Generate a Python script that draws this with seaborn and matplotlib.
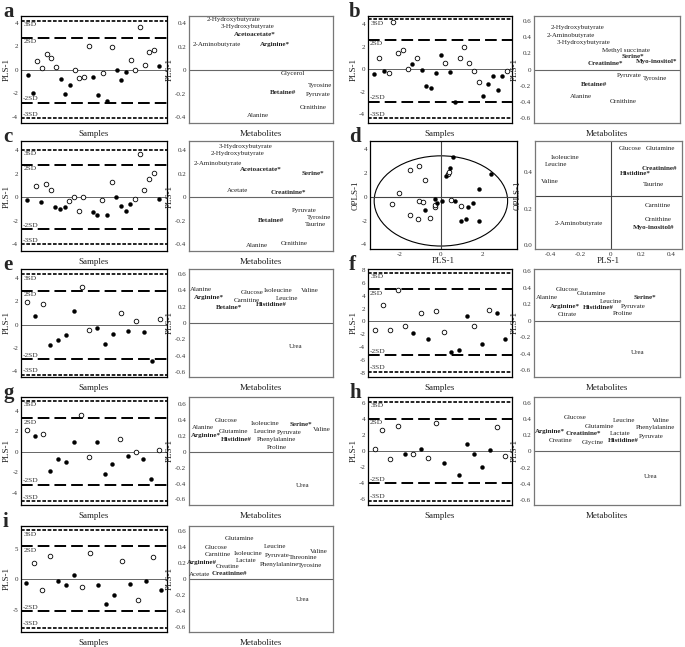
import numpy as np
import pandas as pd
import matplotlib
matplotlib.use("Agg")
import matplotlib.pyplot as plt
from matplotlib.patches import Ellipse
from matplotlib.ticker import FuncFormatter
import seaborn as sns

sns.set_theme(style="white")
plt.rcParams["font.family"] = ["Liberation Serif", "DejaVu Serif"]
plt.rcParams["axes.unicode_minus"] = False

# ---------------- score plots (PLS-1 per sample), 1 = filled dot, 0 = open circle
a_idx = list(range(1, 30))
a_val = [-0.5, -2.0, 0.7, 0.15, 1.3, 0.95, 0.2, -0.8, -2.1, -1.35, 0.0, -0.75, -0.65, 2.0, -0.65,
         -2.2, -0.25, -2.65, 1.95, 0.0, -0.9, -0.2, 0.8, -0.05, 3.6, 0.4, 1.5, 1.65, 0.3]
a_fill = [1, 1, 0, 0, 0, 0, 0, 1, 1, 1, 0, 0, 0, 0, 1, 1, 0, 1, 0, 1, 1, 1, 0, 0, 0, 0, 0, 0, 1]
a_sd = [4.17, 2.72, -2.81, -4.14]

b_idx = list(range(1, 30))
b_val = [-0.44, 1.0, -0.18, -0.32, 4.24, 1.46, 1.72, 0.06, 0.5, 1.0, -0.09, -1.52, -1.67, -0.29, 1.26,
         0.58, -0.2, -2.87, 1.0, 1.99, 0.58, -0.15, -1.17, -2.4, -1.29, -0.56, -1.87, -0.56, -0.18]
b_fill = [1, 0, 1, 0, 0, 0, 0, 0, 1, 0, 1, 1, 1, 1, 1, 0, 1, 1, 0, 0, 0, 0, 0, 1, 1, 1, 1, 1, 0]
b_sd = [4.44, 2.63, -2.87, -4.33]

c_idx = [1, 3, 4, 5, 6, 7, 8, 9, 10, 11, 12, 13, 15, 16, 17, 18, 19, 20, 21, 22, 23, 24, 25, 26, 27, 28, 29]
c_val = [-0.22, 0.95, -0.45, 1.1, 0.62, -0.87, -0.98, -0.84, -0.31, 0.0, -1.18, 0.0, -1.24, -1.52,
         -0.28, -1.49, 1.32, 0.0, -0.76, -1.21, -0.56, -0.17, 3.65, 0.62, 1.54, 2.08, -0.17]
c_fill = [1, 0, 1, 0, 0, 1, 1, 1, 0, 0, 0, 0, 1, 1, 0, 1, 0, 1, 1, 1, 1, 0, 0, 0, 0, 0, 1]
c_sd = [4.04, 2.75, -2.7, -4.02]

e_idx = list(range(1, 19))
e_val = [1.89, 0.69, 1.72, -1.75, -1.33, -0.86, 1.19, 3.2, -0.47, -0.28, -1.65, -0.81, 0.99,
         -0.58, 0.26, -0.67, -3.1, 0.44]
e_fill = [0, 1, 0, 1, 1, 1, 1, 0, 0, 1, 1, 1, 0, 1, 0, 1, 1, 0]
e_sd = [4.3, 2.86, -2.99, -4.29]

f_idx = list(range(1, 19))
f_val = [-1.35, 2.5, -1.4, 4.9, -0.65, -1.8, 1.3, -2.8, 1.55, -1.7, -4.85, -4.4, 0.83, -0.66,
         -3.6, 1.77, 1.38, -2.7]
f_fill = [0, 0, 0, 0, 0, 1, 0, 1, 0, 0, 1, 1, 1, 0, 1, 0, 1, 1]
f_sd = [7.6, 5.0, -5.3, -7.9]

g_idx = list(range(1, 19))
g_val = [2.1, 1.53, 1.72, -1.85, -0.75, -1.04, 0.97, 3.57, -0.49, 0.97, -2.18, -1.23, 1.27,
         -0.45, 0.0, -0.71, -2.7, 0.16]
g_fill = [0, 1, 0, 1, 1, 1, 1, 0, 0, 1, 1, 1, 0, 1, 0, 1, 1, 0]
g_sd = [4.95, 3.25, -3.2, -4.8]

h_idx = [1, 2, 3, 4, 5, 6, 7, 8, 9, 10, 12, 13, 14, 15, 16, 17, 18]
h_val = [0.25, 2.7, -1.0, 3.17, -0.29, -0.29, 0.29, -0.83, 3.58, -1.46, -3.0, 0.88, -0.38,
         -2.0, 0.17, 3.04, -0.63]
h_fill = [0, 0, 0, 0, 1, 0, 1, 0, 0, 1, 1, 1, 1, 1, 1, 0, 0]
h_sd = [6.17, 4.1, -4.04, -6.2]

i_idx = list(range(1, 19))
i_val = [-0.6, 2.7, -1.7, 3.8, -0.33, -1.0, 0.77, -1.33, 4.36, -1.0, -4.1, -2.54, 3.04, -0.72,
         -3.37, -0.22, 3.7, -1.82]
i_fill = [1, 0, 0, 0, 1, 1, 1, 0, 0, 1, 1, 1, 0, 1, 0, 1, 0, 1]
i_sd = [8.1, 5.45, -5.3, -8.0]

# ---------------- loading plots (metabolite, x position, PLS-1 loading, bold = significant)
a_met = ["2-Hydroxybutyrate", "3-Hydroxybutyrate", "Acetoacetate*", "2-Aminobutyrate", "Arginine*",
         "Glycerol", "Tyrosine", "Betaine#", "Pyruvate", "Ornithine", "Alanine"]
a_lx = [0.31, 0.41, 0.46, 0.19, 0.60, 0.72, 0.91, 0.65, 0.90, 0.86, 0.48]
a_ly = [0.43, 0.37, 0.30, 0.22, 0.22, -0.03, -0.13, -0.19, -0.21, -0.32, -0.39]
a_bold = [0, 0, 1, 0, 1, 0, 0, 1, 0, 0, 0]

b_met = ["2-Hydroxybutyrate", "2-Aminobutyrate", "3-Hydroxybutyrate", "Methyl succinate", "Serine*",
         "Myo-inositol*", "Creatinine*", "Pyruvate", "Tyrosine", "Betaine#", "Alanine", "Ornithine"]
b_lx = [0.30, 0.25, 0.34, 0.63, 0.68, 0.84, 0.49, 0.65, 0.83, 0.41, 0.32, 0.61]
b_ly = [0.52, 0.42, 0.33, 0.24, 0.16, 0.10, 0.07, -0.08, -0.11, -0.19, -0.33, -0.40]
b_bold = [0, 0, 0, 0, 1, 1, 1, 0, 0, 1, 0, 0]

c_met = ["3-Hydroxybutyrate", "2-Hydroxybutyrate", "2-Aminobutyrate", "Acetoacetate*", "Serine*",
         "Acetate", "Creatinine*", "Pyruvate", "Tyrosine", "Betaine#", "Taurine", "Alanine", "Ornithine"]
c_lx = [0.39, 0.34, 0.20, 0.50, 0.86, 0.34, 0.69, 0.80, 0.90, 0.57, 0.88, 0.47, 0.73]
c_ly = [0.43, 0.37, 0.29, 0.24, 0.20, 0.06, 0.04, -0.11, -0.17, -0.20, -0.23, -0.41, -0.40]
c_bold = [0, 0, 0, 1, 1, 0, 1, 0, 0, 1, 0, 0, 0]

e_met = ["Alanine", "Arginine*", "Glucose", "Carnitine", "Betaine*", "Isoleucine", "Valine",
         "Leucine", "Histidine#", "Urea"]
e_lx = [0.08, 0.14, 0.44, 0.40, 0.28, 0.62, 0.84, 0.68, 0.57, 0.74]
e_ly = [0.41, 0.31, 0.37, 0.28, 0.19, 0.40, 0.40, 0.30, 0.22, -0.29]
e_bold = [0, 1, 0, 0, 1, 0, 0, 0, 1, 0]

f_met = ["Glucose", "Glutamine", "Alanine", "Leucine", "Serine*", "Arginine*", "Pyruvate",
         "Histidine#", "Citrate", "Proline", "Urea"]
f_lx = [0.23, 0.39, 0.09, 0.53, 0.76, 0.21, 0.68, 0.44, 0.23, 0.61, 0.71]
f_ly = [0.38, 0.33, 0.28, 0.24, 0.28, 0.18, 0.18, 0.16, 0.08, 0.09, -0.38]
f_bold = [0, 0, 0, 0, 1, 1, 0, 1, 0, 0, 0]

g_met = ["Glucose", "Isoleucine", "Serine*", "Valine", "Alanine", "Glutamine", "Leucine", "Pyruvate",
         "Arginine*", "Histidine#", "Phenylalanine", "Proline", "Urea"]
g_lx = [0.26, 0.53, 0.78, 0.92, 0.10, 0.31, 0.525, 0.695, 0.12, 0.33, 0.61, 0.61, 0.79]
g_ly = [0.40, 0.36, 0.35, 0.28, 0.31, 0.26, 0.26, 0.24, 0.20, 0.16, 0.16, 0.06, -0.42]
g_bold = [0, 0, 1, 0, 0, 0, 0, 0, 1, 1, 0, 0, 0]

h_met = ["Glucose", "Leucine", "Valine", "Glutamine", "Phenylalanine", "Arginine*", "Creatinine*",
         "Lactate", "Pyruvate", "Creatine", "Glycine", "Histidine#", "Urea"]
h_lx = [0.28, 0.62, 0.87, 0.45, 0.83, 0.11, 0.34, 0.59, 0.80, 0.18, 0.40, 0.61, 0.80]
h_ly = [0.42, 0.38, 0.38, 0.31, 0.30, 0.24, 0.22, 0.22, 0.18, 0.13, 0.11, 0.13, -0.31]
h_bold = [0, 0, 0, 0, 0, 1, 1, 0, 0, 0, 0, 1, 0]

i_met = ["Glutamine", "Leucine", "Glucose", "Valine", "Carnitine", "Isoleucine", "Pyruvate",
         "Threonine", "Lactate", "Arginine#", "Creatine", "Phenylalanine", "Tyrosine", "Acetate",
         "Creatinine#", "Urea"]
i_lx = [0.35, 0.60, 0.19, 0.90, 0.20, 0.41, 0.61, 0.79, 0.40, 0.09, 0.27, 0.63, 0.84, 0.07, 0.28, 0.79]
i_ly = [0.50, 0.41, 0.39, 0.34, 0.30, 0.32, 0.29, 0.27, 0.23, 0.20, 0.15, 0.18, 0.17, 0.06, 0.07, -0.26]
i_bold = [0, 0, 0, 0, 0, 0, 0, 0, 0, 1, 0, 0, 0, 0, 1, 0]

# ---------------- panel d: OPLS scores and loadings
d_x = [-2.35, -2.03, -1.47, -1.47, -1.1, -1.04, -1.04, -0.88, -0.78, -0.78, -0.51, -0.27, -0.19, -0.3,
       -0.27, 0.05, 0.24, 0.34, 0.38, 0.43, 0.58, 0.5, 0.69, 0.98, 1.28, 0.98, 1.2, 1.54, 1.81, 1.81, 2.42]
d_y = [-0.61, 0.33, 2.28, -1.56, -1.89, 2.58, -0.36, -0.47, 1.44, -1.14, -1.75, -0.22, -0.56, -0.83,
       -0.69, -0.39, 1.75, 1.94, 2.08, 2.39, 3.39, -0.31, -0.39, -0.75, -0.89, -2.03, -1.89, -0.5, 0.64,
       -2.08, 1.94]
d_fill = [0, 0, 0, 0, 0, 0, 0, 0, 0, 1, 0, 1, 1, 0, 0, 1, 1, 0, 0, 1, 1, 0, 1, 0, 1, 1, 1, 1, 1, 1, 1]
d_ellipse = (0.0, -0.35, 6.4, 7.6)  # centre x, centre y, width, height

d_met = ["Glucose", "Glutamine", "Isoleucine", "Leucine", "Valine", "Creatinine#", "Histidine*",
         "Taurine", "Carnitine", "Ornithine", "Myo-inositol#", "2-Aminobutyrate"]
d_lx = [0.126, 0.33, -0.30, -0.36, -0.40, 0.32, 0.16, 0.28, 0.31, 0.31, 0.28, -0.21]
d_ly = [0.53, 0.53, 0.48, 0.44, 0.35, 0.42, 0.39, 0.33, 0.22, 0.14, 0.10, 0.12]
d_bold = [0, 0, 0, 0, 0, 1, 1, 0, 0, 0, 1, 0]

# ---------------- layout helpers (pixel boxes)
W, H = 685, 647
fig = plt.figure(figsize=(W / 100, H / 100), dpi=100)
fig.patch.set_facecolor("white")


def box(l, t, r, b):
    return [l / W, 1 - b / H, (r - l) / W, (b - t) / H]


def fmt(v, p):
    return "0" if abs(v) < 1e-9 else ("%g" % round(v, 1))


def style(ax, spine_col="black"):
    for s in ax.spines.values():
        s.set_visible(True)
        s.set_color(spine_col)
        s.set_linewidth(0.9)
    ax.tick_params(axis="both", length=0, labelsize=5, pad=2, colors="#333333")
    ax.set_facecolor("white")
    ax.grid(False)


def score_panel(rect, idx, val, fill, sd, xlim, ylim, yticks):
    ax = fig.add_axes(box(*rect))
    df = pd.DataFrame({"Sample": idx, "PLS-1": val, "fill": fill})
    sns.scatterplot(data=df[df["fill"] == 0], x="Sample", y="PLS-1", color="white",
                    edgecolor="black", linewidth=0.6, s=11, ax=ax, zorder=3)
    sns.scatterplot(data=df[df["fill"] == 1], x="Sample", y="PLS-1", color="black",
                    edgecolor="black", linewidth=0.3, s=8, ax=ax, zorder=3)
    ax.axhline(0, color="#666666", lw=0.7, zorder=1)
    for k, v in enumerate(sd):
        if k in (0, 3):
            ax.axhline(v, color="black", lw=1.2, ls=(0, (2.2, 1.0)), zorder=2)
        else:
            ax.axhline(v, color="black", lw=1.4, ls=(0, (6, 2.6)), zorder=2)
    names = ["3SD", "2SD", "-2SD", "-3SD"]
    for k, v in enumerate(sd):
        up = k >= 2
        ax.annotate(names[k], xy=(0.015, v), xycoords=("axes fraction", "data"),
                    xytext=(0, 1 if up else -1), textcoords="offset points",
                    va="bottom" if up else "top", ha="left", fontsize=5.3, color="#333333")
    ax.set_xlim(xlim)
    ax.set_ylim(ylim)
    ax.set_yticks(yticks)
    ax.yaxis.set_major_formatter(FuncFormatter(fmt))
    ax.set_xticks([])
    style(ax)
    ax.set_xlabel("Samples", fontsize=6.5, labelpad=5, color="#222222")
    ax.set_ylabel("PLS-1", fontsize=6.5, labelpad=1, color="#222222")
    return ax


def loading_panel(rect, met, lx, ly, bold, ylim, yticks):
    ax = fig.add_axes(box(*rect))
    ax.axhline(0, color="#666666", lw=0.8)
    for m, x, y, b in zip(met, lx, ly, bold):
        ax.text(x, y, m, fontsize=5, ha="center", va="center", color="#222222",
                fontweight="bold" if b else "normal")
    ax.set_xlim(0, 1)
    ax.set_ylim(ylim)
    ax.set_yticks(yticks)
    ax.yaxis.set_major_formatter(FuncFormatter(fmt))
    ax.set_xticks([])
    style(ax, "#777777")
    ax.set_xlabel("Metabolites", fontsize=6.5, labelpad=5, color="#222222")
    ax.set_ylabel("PLS-1", fontsize=6.5, labelpad=1, color="#222222")
    return ax


t4 = [-4, -2, 0, 2, 4]
l4 = [-0.4, -0.2, 0, 0.2, 0.4]
l6 = [-0.6, -0.4, -0.2, 0, 0.2, 0.4, 0.6]

rows = [(16, 123), (141, 251), (269, 377), (397, 505), (526, 632)]
LS, LL, RS, RL = (21, 167), (189, 333), (368, 512), (534, 680)

# a
t, b = rows[0]
score_panel((LS[0], t, LS[1], b), a_idx, a_val, a_fill, a_sd, (-0.5, 30.8), (-4.55, 4.57), t4)
loading_panel((LL[0], t, LL[1], b), a_met, a_lx, a_ly, a_bold, (-0.45, 0.46), l4)
# b
score_panel((RS[0], t, RS[1], b), b_idx, b_val, b_fill, b_sd, (-0.34, 30.06), (-4.77, 4.74), t4)
loading_panel((RL[0], t, RL[1], b), b_met, b_lx, b_ly, b_bold, (-0.66, 0.66), l6)
# c
t, b = rows[1]
score_panel((LS[0], t, LS[1], b), c_idx, c_val, c_fill, c_sd, (-0.28, 30.8), (-4.58, 4.78), t4)
loading_panel((LL[0], t, LL[1], b), c_met, c_lx, c_ly, c_bold, (-0.46, 0.48), l4)
# d
ax = fig.add_axes(box(370, t, 517, b - 2))
dd = pd.DataFrame({"PLS-1": d_x, "OPLS-1": d_y, "fill": d_fill})
sns.scatterplot(data=dd[dd["fill"] == 0], x="PLS-1", y="OPLS-1", color="white",
                edgecolor="black", linewidth=0.6, s=11, ax=ax, zorder=3)
sns.scatterplot(data=dd[dd["fill"] == 1], x="PLS-1", y="OPLS-1", color="black",
                edgecolor="black", linewidth=0.3, s=8, ax=ax, zorder=3)
ax.add_patch(Ellipse((d_ellipse[0], d_ellipse[1]), d_ellipse[2], d_ellipse[3],
                     fill=False, ec="black", lw=0.8))
ax.axhline(0, color="#444444", lw=0.8)
ax.axvline(0, color="#444444", lw=0.8)
ax.set_xlim(-3.4, 3.65)
ax.set_ylim(-4.4, 4.7)
ax.set_xticks([-2, 0, 2])
ax.set_yticks(t4)
style(ax)
ax.set_xlabel("PLS-1", fontsize=6.5, labelpad=0, color="#222222")
ax.set_ylabel("OPLS-1", fontsize=6.5, labelpad=1, color="#222222")

ax = fig.add_axes(box(535, t, 682, b - 2))
ax.axhline(0.27, color="#444444", lw=0.8)
ax.axvline(0, color="#444444", lw=0.8)
for m, x, y, bb in zip(d_met, d_lx, d_ly, d_bold):
    ax.text(x, y, m, fontsize=5, ha="center", va="center", color="#222222",
            fontweight="bold" if bb else "normal")
ax.set_xlim(-0.5, 0.47)
ax.set_ylim(-0.02, 0.57)
ax.set_xticks([-0.4, -0.2, 0, 0.2, 0.4])
ax.set_yticks([0.0, 0.2, 0.4])
ax.xaxis.set_major_formatter(FuncFormatter(fmt))
ax.yaxis.set_major_formatter(FuncFormatter(lambda v, p: "%.1f" % v))
style(ax, "#777777")
ax.set_xlabel("PLS-1", fontsize=6.5, labelpad=0, color="#222222")
ax.set_ylabel("OPLS-1", fontsize=6.5, labelpad=1, color="#222222")
# e, f
t, b = rows[2]
score_panel((LS[0], t, LS[1], b), e_idx, e_val, e_fill, e_sd, (0.23, 18.94), (-4.49, 4.75), t4)
loading_panel((LL[0], t, LL[1], b), e_met, e_lx, e_ly, e_bold, (-0.66, 0.66), l6)
score_panel((RS[0], t, RS[1], b), f_idx, f_val, f_fill, f_sd, (0.1, 18.95), (-8.7, 8.2),
            [-8, -6, -4, -2, 0, 2, 4, 6, 8])
loading_panel((RL[0], t, RL[1], b), f_met, f_lx, f_ly, f_bold, (-0.68, 0.63), l6)
# g, h
t, b = rows[3]
score_panel((LS[0], t, LS[1], b), g_idx, g_val, g_fill, g_sd, (0.23, 19.03), (-5.2, 5.35), t4)
loading_panel((LL[0], t, LL[1], b), g_met, g_lx, g_ly, g_bold, (-0.67, 0.69), l6)
score_panel((RS[0], t, RS[1], b), h_idx, h_val, h_fill, h_sd, (0.15, 18.9), (-6.75, 6.8),
            [-6, -4, -2, 0, 2, 4, 6])
loading_panel((RL[0], t, RL[1], b), h_met, h_lx, h_ly, h_bold, (-0.66, 0.67), l6)
# i
t, b = rows[4]
score_panel((LS[0], t, LS[1], b), i_idx, i_val, i_fill, i_sd, (0.33, 18.7), (-8.7, 8.8), [-5, 0, 5])
loading_panel((LL[0], t, LL[1], b), i_met, i_lx, i_ly, i_bold, (-0.66, 0.66), l6)

# panel letters
for lab, x, y in [("a", 3, 12), ("b", 349, 12), ("c", 3, 137), ("d", 349, 137), ("e", 3, 265),
                  ("f", 349, 265), ("g", 3, 393), ("h", 349, 393), ("i", 3, 522)]:
    fig.text(x / W, 1 - y / H, lab, fontsize=15, fontweight="bold", ha="left", va="center")

fig.savefig("out.png", dpi=100, facecolor="white")
